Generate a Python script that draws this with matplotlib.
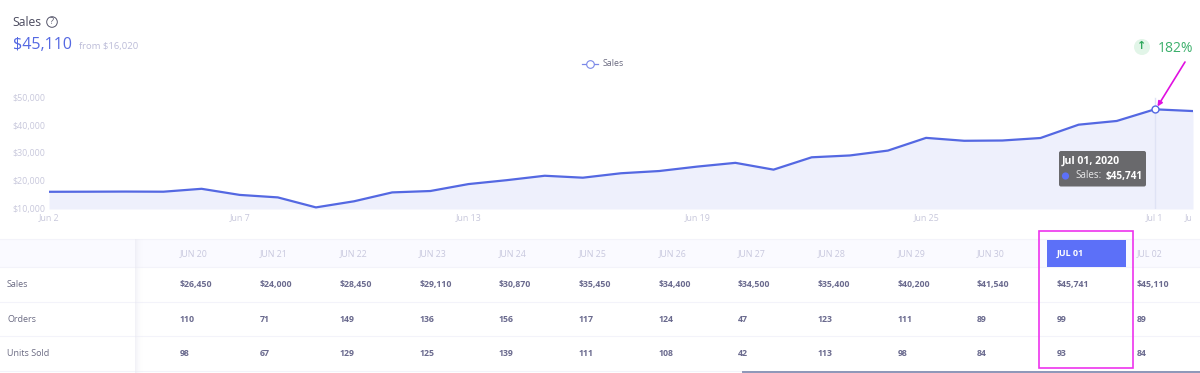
import matplotlib
matplotlib.use('Agg')
import matplotlib.pyplot as plt
from matplotlib.patches import Rectangle, FancyBboxPatch, Circle
from matplotlib.transforms import Bbox

plt.rcParams['font.family'] = ['Open Sans', 'DejaVu Sans']

# daily sales, Jun 2 to Jul 2
sales = [16020, 16050, 16100, 16050, 17100, 14900, 14000, 10400, 12600, 15800,
         16300, 18800, 20200, 21800, 21100, 22700, 23500, 25100, 26450, 24000,
         28450, 29110, 30870, 35450, 34400, 34500, 35400, 40200, 41540, 45741, 45110]
day_ticks = [0, 5, 11, 17, 23, 29, 30]
day_labels = ['Jun 2', 'Jun 7', 'Jun 13', 'Jun 19', 'Jun 25', 'Jul 1', 'Jul 2']
y_ticks = [10000, 20000, 30000, 40000, 50000]

# table below the chart
columns = ['JUN 20', 'JUN 21', 'JUN 22', 'JUN 23', 'JUN 24', 'JUN 25', 'JUN 26',
           'JUN 27', 'JUN 28', 'JUN 29', 'JUN 30', 'JUL 01', 'JUL 02']
row_names = ['Sales', 'Orders', 'Units Sold']
table_sales = [26450, 24000, 28450, 29110, 30870, 35450, 34400, 34500, 35400,
               40200, 41540, 45741, 45110]
orders = [110, 71, 149, 136, 156, 117, 124, 47, 123, 111, 89, 99, 89]
units = [98, 67, 129, 125, 139, 111, 108, 42, 113, 98, 84, 93, 84]

BLUE = '#5468e2'
HEAD = '#5c70f8'
TICK = '#c8c8dc'
CELL = '#6a6a8e'
MAGENTA = '#ee33ee'
W, H = 1200, 373

fig = plt.figure(figsize=(12, 3.73), dpi=100)

# line chart, placed in pixels: left 49, right 1193, top 90, bottom 209
ax = fig.add_axes([49 / W, 1 - 209 / H, (1193 - 49) / W, (209 - 90) / H])
days = list(range(len(sales)))
ax.fill_between(days, sales, 9820, color='#eef0fc', lw=0)
ax.axvline(29, color='#dfe3f5', lw=1, ymax=0.93)
ax.plot(days, sales, color=BLUE, lw=1.6, solid_joinstyle='round')
ax.plot([29], [sales[29]], 'o', ms=5, mfc='white', mec=BLUE, mew=1, zorder=5)
ax.set_xlim(0, 30)
ax.set_ylim(9820, 52700)
ax.set_xticks(day_ticks, day_labels)
ax.set_yticks(y_ticks, ['$%s' % format(v, ',') for v in y_ticks])
ax.tick_params(length=0, labelsize=6.4, labelcolor=TICK)
ax.tick_params(axis='x', pad=3)
ax.tick_params(axis='y', pad=2.5)
for s in ax.spines.values():
    s.set_visible(False)
ax.patch.set_alpha(0)
# last tick label runs off the chart edge in the reference
last = ax.get_xticklabels()[-1]
last.set_clip_box(Bbox([[0, 0], [1191, 373]]))
last.set_clip_on(True)

# everything else is drawn in pixel coordinates
ov = fig.add_axes([0, 0, 1, 1], zorder=5)
ov.set_xlim(0, W)
ov.set_ylim(H, 0)
ov.axis('off')

# header
ov.text(12.5, 22, 'Sales', fontsize=8.7, color='#4a4a5e', va='center')
ov.add_patch(Circle((52, 22), 5.3, fc='none', ec='#55556a', lw=0.7))
ov.text(52, 22, '?', fontsize=6.5, color='#55556a', ha='center', va='center')
ov.text(13, 45, '$45,110', fontsize=11.5, color=BLUE, va='center')
ov.text(79, 47, 'from $16,020', fontsize=6.8, color='#bcbcd8', va='center')

# legend
ov.plot([582, 598], [64, 64], color='#7a88e8', lw=0.9)
ov.plot([590], [64], 'o', ms=5.5, mfc='white', mec='#7a88e8', mew=0.8)
ov.text(603, 63.5, 'Sales', fontsize=6.4, color='#6a6a80', va='center')

# growth badge and arrow
ov.add_patch(Circle((1142, 47), 8, fc='#e2f5e8', ec='none'))
ov.text(1142, 46, '\u2191', fontsize=8, color='#2fa85c', ha='center', va='center',
        family='DejaVu Sans', fontweight='bold')
ov.text(1158, 48, '182%', fontsize=10, color='#3cb06c', va='center')
ov.annotate('', xy=(1157.5, 106.5), xytext=(1185, 62),
            arrowprops=dict(arrowstyle='-|>', color='#e010e0', lw=1.2, shrinkA=0, shrinkB=0,
                            mutation_scale=7))

# tooltip
ov.add_patch(FancyBboxPatch((1059, 151), 87, 35.5, boxstyle='round,pad=0,rounding_size=2',
                            fc='#69696c', ec='none', mutation_aspect=1))
ov.text(1062, 161.5, 'Jul 01, 2020', fontsize=7.6, color='white', fontweight='bold', va='center')
ov.add_patch(Circle((1065.5, 176), 3.6, fc=HEAD, ec='none'))
ov.text(1075.5, 176, 'Sales:', fontsize=7.1, color='#e8e8e8', va='center')
ov.text(1142.5, 176, '$45,741', fontsize=7.2, color='white', fontweight='bold', va='center', ha='right')

# table background and grid
ov.add_patch(Rectangle((0, 239), W, 28, fc='#fafaff', ec='none'))
for y in [239, 267, 301.5, 336, 371]:
    ov.plot([0, W], [y, y], color='#f3f3fa', lw=0.8)
ov.plot([743, W], [372.3, 372.3], color='#8d96b8', lw=1.4)
# soft shadow right of the frozen first column
for i in range(8):
    ov.add_patch(Rectangle((135 + i, 239), 1, 134, fc='#e6e6f0', ec='none', alpha=0.5 * (1 - i / 8) ** 2, zorder=3))

col_x = [180 + i * 79.7 for i in range(len(columns))]
row_y = [284.5, 319, 354]
for y, name in zip(row_y, row_names):
    ov.text(7, y, name, fontsize=6.5, color='#6a6a82', va='center')

ov.add_patch(Rectangle((1046.7, 240), 79.3, 27, fc=HEAD, ec='none', zorder=3))
for x, c in zip(col_x, columns):
    if c == 'JUL 01':
        ov.text(x, 253.5, c, fontsize=6.4, color='white', fontweight='bold', va='center', zorder=4)
    else:
        ov.text(x, 253.5, c, fontsize=6.4, color='#c8c8de', va='center')
rows = [['$%s' % format(v, ',') for v in table_sales], orders, units]
for y, vals in zip(row_y, rows):
    for x, v in zip(col_x, vals):
        ov.text(x, y, str(v), fontsize=6.3, color=CELL, fontweight='bold', va='center')

ov.add_patch(Rectangle((1039, 231), 93.5, 136.5, fc='none', ec=MAGENTA, lw=1.2, zorder=6))

fig.savefig('out.png', dpi=100)
